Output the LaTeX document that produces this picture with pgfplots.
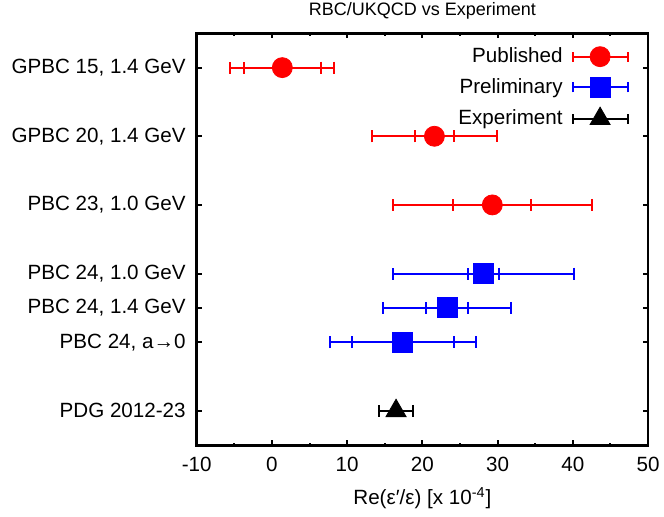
\documentclass[border=0pt]{standalone}
\usepackage{fontspec}
\setmainfont{Liberation Sans}
\usepackage{pgfplots}
\pgfplotsset{compat=1.18}

\begin{document}
\begin{tikzpicture}
\begin{axis}[
    name=ax,
    scale only axis,
    width=225.6pt, height=205.9pt,
    xmin=-10, xmax=50,
    ymin=1.5, ymax=7.5,
    xtick={-10,0,...,50},
    minor x tick num=1,
    ytick={2,3,3.5,4,5,6,7},
    yticklabels={{PDG 2012-23},{PBC 24, a→0},{PBC 24, 1.4 GeV},{PBC 24, 1.0 GeV},{PBC 23, 1.0 GeV},{GPBC 20, 1.4 GeV},{GPBC 15, 1.4 GeV}},
    tick align=inside,
    major tick length=2.5pt,
    minor tick length=1.2pt,
    axis line style={line width=1.4pt},
    every tick/.style={black, line width=1pt},
    /pgf/number format/assume math mode=true,
    tick label style={font=\fontsize{10.3}{12}\selectfont},
    label style={font=\fontsize{10.3}{12}\selectfont},
    yticklabel style={xshift=-2pt},
    xticklabel style={yshift=-2.5pt},
    title={RBC/UKQCD vs Experiment},
    title style={font=\fontsize{9}{10.8}\selectfont, at={(0.5,1)}, anchor=base, yshift=3pt},
    xlabel={Re(ε′/ε) [x 10\textsuperscript{-4}]},
    xlabel style={at={(0.5,0)}, anchor=base, yshift=-29.8pt},
    legend plot pos=right,
    legend cell align=right,
    legend style={at={(1,1)}, anchor=north east, xshift=-6.5pt, yshift=-4pt,
        draw=none, fill=none, row sep=4.4pt, column sep=3.5pt,
        nodes={inner sep=1pt},
        font=\fontsize{10.3}{12}\selectfont},
    legend image code/.code={
        \draw[#1, mark=none, line width=1pt] (0pt,0pt) -- (27.5pt,0pt);
        \draw[#1, mark=none, line width=1pt] (0pt,-2.5pt) -- (0pt,2.5pt) (27.5pt,-2.5pt) -- (27.5pt,2.5pt);
        \draw[#1] plot coordinates {(13.75pt,0pt)};
    },
]

% outer (total) error bars
\addplot[forget plot, only marks, mark=none,
    error bars/.cd, x dir=both, x explicit,
    error bar style={red, line width=1pt},
    error mark options={red, rotate=90, mark size=3pt, line width=1pt}]
    coordinates {
    (1.38,7) +- (6.9,0)
    (21.6,6) +- (8.3,0)
    (29.3,5) +- (13.2,0)
    };
\addplot[forget plot, only marks, mark=none,
    error bars/.cd, x dir=both, x explicit,
    error bar style={blue, line width=1pt},
    error mark options={blue, rotate=90, mark size=3pt, line width=1pt}]
    coordinates {
    (28.1,4) +- (12.05,0)
    (23.3,3.5) +- (8.5,0)
    (17.4,3) +- (9.7,0)
    };

% inner (statistical) error bars with markers
\addplot[forget plot, only marks, red, mark=*, mark size=5pt,
    error bars/.cd, x dir=both, x explicit,
    error bar style={red, line width=1pt},
    error mark options={red, rotate=90, mark size=3pt, line width=1pt}]
    coordinates {
    (1.38,7) +- (5.15,0)
    (21.6,6) +- (2.55,0)
    (29.3,5) +- (5.2,0)
    };
\addplot[forget plot, only marks, blue, mark=square*, mark size=5pt,
    error bars/.cd, x dir=both, x explicit,
    error bar style={blue, line width=1pt},
    error mark options={blue, rotate=90, mark size=3pt, line width=1pt}]
    coordinates {
    (28.1,4) +- (2.05,0)
    (23.3,3.5) +- (2.8,0)
    (17.4,3) +- (6.75,0)
    };
\addplot[forget plot, only marks, black, mark=triangle*, mark size=5.8pt,
    error bars/.cd, x dir=both, x explicit,
    error bar style={black, line width=1pt},
    error mark options={black, rotate=90, mark size=3pt, line width=1pt}]
    coordinates {
    (16.5,2) +- (2.3,0)
    };

\addlegendimage{red, mark=*, mark size=5pt}
\addlegendentry{\vphantom{Py}Published}
\addlegendimage{blue, mark=square*, mark size=5pt}
\addlegendentry{\vphantom{Py}Preliminary}
\addlegendimage{black, mark=triangle*, mark size=5.8pt}
\addlegendentry{\vphantom{Py}Experiment}
\end{axis}
\pgfresetboundingbox
\path ([shift={(-98.35pt,-35.5pt)}]ax.south west) rectangle ([shift={(8pt,16.65pt)}]ax.north east);
\end{tikzpicture}
\end{document}
